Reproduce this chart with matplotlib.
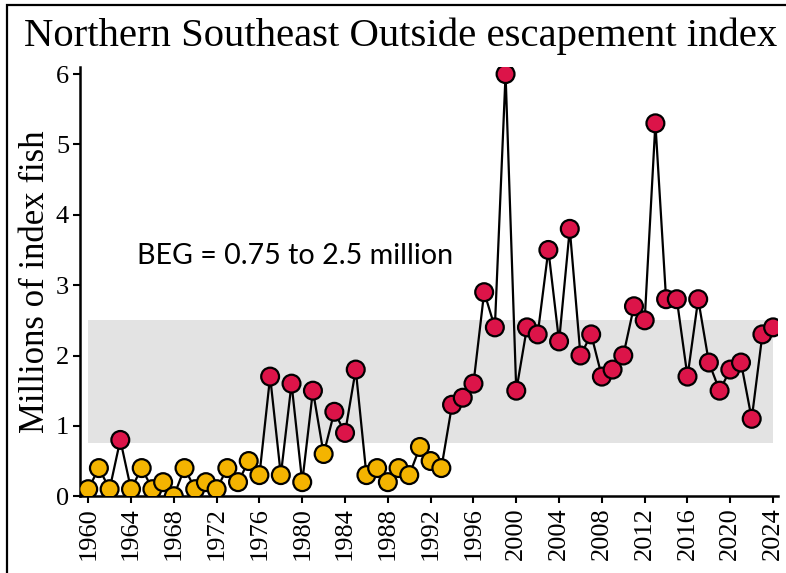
import numpy as np
import matplotlib
matplotlib.use('Agg')
from matplotlib import pyplot as plt
from matplotlib.patches import Rectangle

years = np.arange(1960, 2025)
escapement = [0.1, 0.4, 0.1, 0.8, 0.1, 0.4, 0.1, 0.2, 0.0, 0.4,
              0.1, 0.2, 0.1, 0.4, 0.2, 0.5, 0.3, 1.7, 0.3, 1.6,
              0.2, 1.5, 0.6, 1.2, 0.9, 1.8, 0.3, 0.4, 0.2, 0.4,
              0.3, 0.7, 0.5, 0.4, 1.3, 1.4, 1.6, 2.9, 2.4, 6.0,
              1.5, 2.4, 2.3, 3.5, 2.2, 3.8, 2.0, 2.3, 1.7, 1.8,
              2.0, 2.7, 2.5, 5.3, 2.8, 2.8, 1.7, 2.8, 1.9, 1.5,
              1.8, 1.9, 1.1, 2.3, 2.4]
beg_low = 0.75
beg_high = 2.5
x_ticks = np.arange(1960, 2025, 4)
y_ticks = [0, 1, 2, 3, 4, 5, 6]

serif = ['Liberation Serif', 'DejaVu Serif']

fig = plt.figure(figsize=(7.86, 5.73), dpi=100)
ax = fig.add_axes([0.102, 0.134, 0.888, 0.749])

ax.fill_between([years[0], years[-1]], beg_low, beg_high, color='#e3e3e3', lw=0, zorder=0)

esc = np.array(escapement)
ax.plot(years, esc, color='black', lw=1.6, zorder=2)
cols = np.where(esc >= beg_low, '#dc1449', '#f4b400')
ax.scatter(years, esc, s=165, c=cols, edgecolors='black', linewidths=1.6, zorder=3)

ax.text(1964.6, 3.41, 'BEG = 0.75 to 2.5 million', fontsize=20.6,
        family=['Lato', 'DejaVu Sans'], va='center', ha='left')

ax.set_xlim(1959.25, 2024.47)
ax.set_ylim(0, 6.1)
ax.set_xticks(x_ticks)
ax.set_xticklabels([str(v) for v in x_ticks], rotation=90, family=serif, fontsize=19)
ax.set_yticks(y_ticks)
ax.set_yticklabels([str(v) for v in y_ticks], family=serif, fontsize=19)
ax.tick_params(width=1.5, length=5, color='black', pad=3)
for s in ['top', 'right']:
    ax.spines[s].set_visible(False)
for s in ['left', 'bottom']:
    ax.spines[s].set_linewidth(1.8)

ax.set_ylabel('Millions of index fish', family=serif, fontsize=25, labelpad=3)
fig.text(0.51, 0.937, 'Northern Southeast Outside escapement index', family=serif,
         fontsize=29.3, ha='center', va='center')

fig.patches.append(Rectangle((7 / 786, -0.05), 1.1, 1 - 5 / 573 + 0.05, transform=fig.transFigure,
                             fill=False, edgecolor='black', lw=1.6, zorder=10))

plt.savefig('out.png', dpi=100)
